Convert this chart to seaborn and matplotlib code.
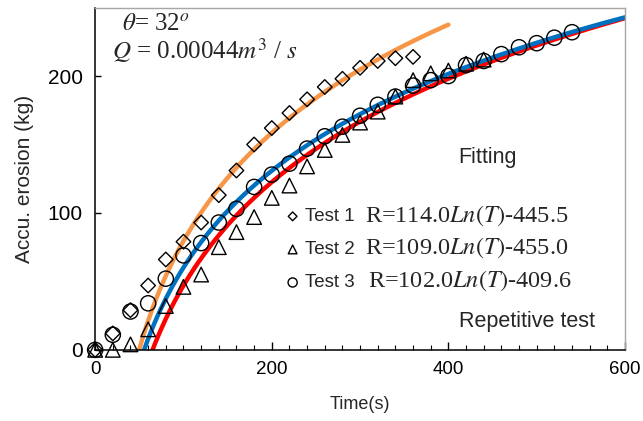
import numpy as np
import pandas as pd
import matplotlib.pyplot as plt
import seaborn as sns
from matplotlib.ticker import MultipleLocator

# measured points (time every 20 s)
t1_time = [0, 20, 40, 60, 80, 100, 120, 140, 160, 180, 200, 220, 240, 260, 280, 300, 320, 340, 360]
t1_mass = [0, 12, 29, 47, 66, 79, 93, 113, 131, 150, 162, 173, 183, 192, 198, 206, 211, 213, 214]

t2_time = [0, 20, 40, 60, 80, 100, 120, 140, 160, 180, 200, 220, 240, 260, 280, 300, 320, 340, 360, 380, 400, 420, 440]
t2_mass = [0, 0, 4, 15, 32, 46, 55, 75, 86, 97, 111, 120, 134, 146, 157, 166, 174, 185, 197, 202, 204, 209, 212]

t3_time = [0, 20, 40, 60, 80, 100, 120, 140, 160, 180, 200, 220, 240, 260, 280, 300, 320, 340,
           360, 380, 400, 420, 440, 460, 480, 500, 520, 540]
t3_mass = [0, 11, 28, 34, 52, 69, 78, 93, 103, 119, 128, 136, 147, 156, 163, 171, 179, 185,
           193, 197, 200, 208, 211, 216, 221, 224, 228, 232]

# fitted curves R = a*Ln(T) + b, drawn between t_start and t_end
fit_names = ["Test 1", "Test 2", "Test 3"]
fit_a = [114.0, 109.0, 102.0]
fit_b = [-445.5, -455.0, -409.6]
fit_start = [49.8, 65.0, 55.5]
fit_end = [400, 600, 600]
fit_colors = ["#F79646", "#FF0000", "#0070C0"]


def fit_frame(a, b, t0, t1):
    t = np.linspace(t0, t1, 300)
    return pd.DataFrame({"time": t, "mass": a * np.log(t) + b})


def main():
    sns.set_theme(style="ticks")
    plt.rcParams["font.family"] = ["Liberation Sans", "DejaVu Sans"]
    plt.rcParams["mathtext.fontset"] = "stix"

    fig = plt.figure(figsize=(6.43, 4.21), dpi=100)
    ax = fig.add_axes([0.148, 0.169, 0.824, 0.813])

    # fits: red first, then blue over it, then orange
    for i in [1, 2, 0]:
        df = fit_frame(fit_a[i], fit_b[i], fit_start[i], fit_end[i])
        sns.lineplot(data=df, x="time", y="mass", ax=ax, color=fit_colors[i],
                     linewidth=3.2, legend=False, zorder=2)

    sets = [
        (t1_time, t1_mass, "D", 55, "Test 1"),
        (t2_time, t2_mass, "^", 110, "Test 2"),
        (t3_time, t3_mass, "o", 120, "Test 3"),
    ]
    for tt, mm, mk, sz, lab in sets:
        df = pd.DataFrame({"time": tt, "mass": mm})
        sns.scatterplot(data=df, x="time", y="mass", ax=ax, marker=mk, s=sz,
                        facecolor="none", edgecolor="black", linewidth=1.0,
                        label=lab, zorder=3, clip_on=False)

    ax.set_xlim(0, 600)
    ax.set_ylim(0, 250)
    ax.xaxis.set_major_locator(MultipleLocator(200))
    ax.xaxis.set_minor_locator(MultipleLocator(20))
    ax.yaxis.set_major_locator(MultipleLocator(100))
    ax.tick_params(axis="both", which="both", direction="in", colors="black")
    ax.tick_params(axis="x", which="major", length=6, width=1, labelsize=13.5, pad=8)
    ax.tick_params(axis="x", which="minor", length=3.5, width=0.8)
    ax.tick_params(axis="y", which="major", length=4, width=1, labelsize=15, pad=9)

    for s in ["left", "bottom"]:
        ax.spines[s].set_color("black")
        ax.spines[s].set_linewidth(1.1)
    for s in ["top", "right"]:
        ax.spines[s].set_visible(True)
        ax.spines[s].set_color("#a6a6a6")
        ax.spines[s].set_linewidth(1.0)

    ax.set_xlabel("Time(s)", fontsize=13, labelpad=13)
    ax.set_ylabel("Accu. erosion (kg)", fontsize=15, labelpad=10)

    ax.legend(loc="upper left", bbox_to_anchor=(0.355, 0.414), frameon=False,
              fontsize=13.5, markerscale=0.6, handletextpad=0.15, handlelength=1.0,
              labelspacing=0.85, borderaxespad=0, borderpad=0)

    eqs = [
        r"R=114.0$\mathit{Ln(T)}$-445.5",
        r"R=109.0$\mathit{Ln(T)}$-455.0",
        r"R=102.0$\mathit{Ln(T)}$-409.6",
    ]
    eq_x = [365, 365, 368]
    eq_y = [216, 248, 281]
    for e, x, y in zip(eqs, eq_x, eq_y):
        fig.text(x / 643, 1 - y / 421, e, fontsize=17.5, family="Liberation Serif",
                 va="center", ha="left")

    fig.text(487 / 643, 1 - 158 / 421, "Fitting", fontsize=15.5, va="center", ha="center")
    fig.text(527 / 643, 1 - 321 / 421, "Repetitive test", fontsize=15.5, va="center", ha="center")
    fig.text(122 / 643, 1 - 24 / 421, r"$\theta$= 32$^{o}$", fontsize=18,
             family="Liberation Serif", va="center", ha="left")
    fig.text(112 / 643, 1 - 51 / 421, r"$Q$ = 0.00044$m^{3}$ / $s$", fontsize=18,
             family="Liberation Serif", va="center", ha="left")

    fig.savefig("out.png", dpi=100)
    plt.close(fig)


if __name__ == "__main__":
    main()
